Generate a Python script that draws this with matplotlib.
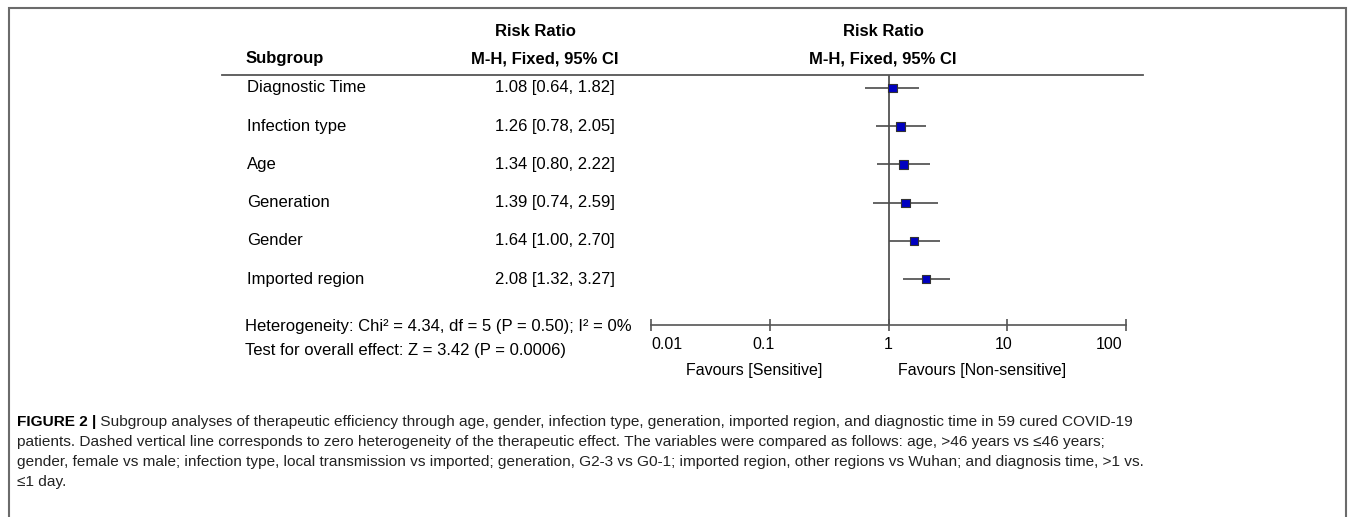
import matplotlib
matplotlib.use('Agg')
import matplotlib.pyplot as plt
from matplotlib.patches import Rectangle
from matplotlib.lines import Line2D
from matplotlib.transforms import ScaledTranslation
from matplotlib import font_manager

subgroups = ['Diagnostic Time', 'Infection type', 'Age', 'Generation', 'Gender', 'Imported region']
rr = [1.08, 1.26, 1.34, 1.39, 1.64, 2.08]
ci_low = [0.64, 0.78, 0.80, 0.74, 1.00, 1.32]
ci_high = [1.82, 2.05, 2.22, 2.59, 2.70, 3.27]
xticks = [0.01, 0.1, 1, 10, 100]
xticklabels = ['0.01', '0.1', '1', '10', '100']
het_text = 'Heterogeneity: Chi² = 4.34, df = 5 (P = 0.50); I² = 0%'
overall_text = 'Test for overall effect: Z = 3.42 (P = 0.0006)'
favours = ['Favours [Sensitive]', 'Favours [Non-sensitive]']
caption_head = 'FIGURE 2 |'
caption_lines = [
    ' Subgroup analyses of therapeutic efficiency through age, gender, infection type, generation, imported region, and diagnostic time in 59 cured COVID-19',
    'patients. Dashed vertical line corresponds to zero heterogeneity of the therapeutic effect. The variables were compared as follows: age, >46 years vs \u226446 years;',
    'gender, female vs male; infection type, local transmission vs imported; generation, G2-3 vs G0-1; imported region, other regions vs Wuhan; and diagnosis time, >1 vs.',
    '\u22641 day.',
]

W, H = 1355, 517
def fx(px):
    return px / W
def fy(py):
    return 1 - py / H

plt.rcParams['font.family'] = ['Liberation Sans', 'DejaVu Sans']
names = {f.name for f in font_manager.fontManager.ttflist}
cap_font = ['Liberation Sans Narrow', 'Liberation Sans', 'DejaVu Sans'] if 'Liberation Sans Narrow' in names else ['Liberation Sans', 'DejaVu Sans']

fig = plt.figure(figsize=(W / 100, H / 100), dpi=100)
renderer = fig.canvas.get_renderer()

# outer frame (bottom edge runs off the picture)
fig.add_artist(Rectangle((fx(9), -0.1), fx(1346) - fx(9), fy(8) + 0.1, transform=fig.transFigure,
                         fill=False, edgecolor='#6b6b6b', lw=1.5))

# forest plot axes: 0.01 -> 100 on a log scale
ax = fig.add_axes([fx(651), fy(325), fx(1126) - fx(651), (325 - 75) / H])
ax.set_xscale('log')
ax.set_xlim(0.01, 100)
ax.set_ylim(6.2, -0.34)
rows = list(range(len(subgroups)))
ax.axvline(1, color='#444444', lw=1.2, zorder=1)
ax.hlines(rows, ci_low, ci_high, color='#4a4a4a', lw=1.2, zorder=2)
box_px = [8.5, 9, 9.3, 8.3, 8.7, 8.3]
ax.scatter(rr, rows, marker='s', s=[(b * 0.72) ** 2 for b in box_px], c='#0000c0',
           edgecolors='#333333', linewidths=0.8, zorder=3)
for side in ('top', 'left', 'right'):
    ax.spines[side].set_visible(False)
ax.spines['bottom'].set_color('#555555')
ax.spines['bottom'].set_linewidth(1.2)
ax.set_yticks([])
ax.set_xticks(xticks)
ax.set_xticklabels(xticklabels)
ax.minorticks_off()
ax.tick_params(axis='x', direction='inout', length=9, width=1.2, color='#555555',
               labelsize=11.5, pad=4)
ax.patch.set_alpha(0)
# RevMan squeezes the scale labels toward the middle
label_shift = [16, -6, 0, -4, -17]
for lab, dx in zip(ax.get_xticklabels(), label_shift):
    lab.set_transform(lab.get_transform() + ScaledTranslation(dx / 100, 0, fig.dpi_scale_trans))

# header rule
fig.add_artist(Line2D([fx(222), fx(1143)], [fy(75), fy(75)], transform=fig.transFigure,
                      color='#555555', lw=1.3))

fs = 12
fig.text(fx(535), fy(32), 'Risk Ratio', ha='center', va='center', fontsize=fs, fontweight='bold')
fig.text(fx(545), fy(59), 'M-H, Fixed, 95% CI', ha='center', va='center', fontsize=fs, fontweight='bold')
fig.text(fx(883), fy(32), 'Risk Ratio', ha='center', va='center', fontsize=fs, fontweight='bold')
fig.text(fx(883), fy(59), 'M-H, Fixed, 95% CI', ha='center', va='center', fontsize=fs, fontweight='bold')
fig.text(fx(246), fy(59), 'Subgroup', ha='left', va='center', fontsize=fs, fontweight='bold')

for i, name in enumerate(subgroups):
    y = ax.transData.transform((1, i))[1] / H
    fig.text(fx(247), y, name, ha='left', va='center', fontsize=fs)
    fig.text(fx(615), y, '%.2f [%.2f, %.2f]' % (rr[i], ci_low[i], ci_high[i]),
             ha='right', va='center', fontsize=fs)

fig.text(fx(245), fy(327), het_text, ha='left', va='center', fontsize=12)
fig.text(fx(245), fy(350), overall_text, ha='left', va='center', fontsize=12)
fig.text(fx(822), fy(371), favours[0], ha='right', va='center', fontsize=11.5)
fig.text(fx(898), fy(371), favours[1], ha='left', va='center', fontsize=11.5)

# caption, sized so the first line spans the measured width
cap_fs = 10.5
head = fig.text(fx(17), fy(422), caption_head, ha='left', va='center', fontsize=cap_fs,
                fontweight='bold', family=cap_font)
first = fig.text(fx(17), fy(422), caption_lines[0], ha='left', va='center', fontsize=cap_fs,
                 family=cap_font)
total = head.get_window_extent(renderer).width + first.get_window_extent(renderer).width
cap_fs = cap_fs * (1143 - 17) / total
head.set_fontsize(cap_fs)
first.set_fontsize(cap_fs)
hw = head.get_window_extent(renderer).width
first.set_x(fx(17 + hw))
for k, line in enumerate(caption_lines[1:]):
    fig.text(fx(17), fy(442 + 20 * k), line, ha='left', va='center', fontsize=cap_fs,
             family=cap_font, color='#222222')
first.set_color('#222222')

fig.savefig('out.png', dpi=100)
